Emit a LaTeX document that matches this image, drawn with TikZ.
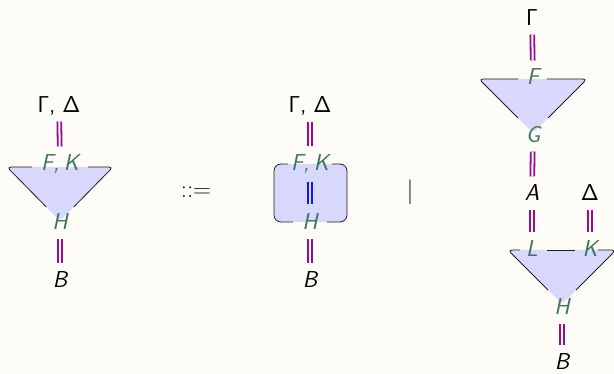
\documentclass[tikz,border=0pt]{standalone}
\usepackage{fontspec}
\usetikzlibrary{calc}
\definecolor{bg}{RGB}{254,252,247}
\definecolor{lav}{RGB}{216,216,252}
\definecolor{grn}{RGB}{58,118,90}
\definecolor{pur}{RGB}{150,10,150}
\definecolor{blu}{RGB}{20,20,240}
\definecolor{edge}{RGB}{30,30,30}
\begin{document}
\begin{tikzpicture}[x=1pt,y=-1pt,
  lab/.style={font=\fontsize{23}{27}\selectfont\sffamily, inner sep=0pt, text height=16pt, text depth=0pt, anchor=center},
  port/.style={lab, text=grn, font=\fontsize{23}{27}\selectfont\sffamily\itshape},
  ext/.style={lab, text=black},
  extit/.style={ext, font=\fontsize{23}{27}\selectfont\sffamily\itshape},
  wire/.style={draw=pur, line width=1.8pt, double=bg, double distance=2pt, shorten <=8.5pt, shorten >=8.5pt},
  iwire/.style={wire, draw=blu, double=lav, shorten <=11pt, shorten >=10pt},
  outline/.style={draw=edge, line width=0.8pt, rounded corners=4pt},
  body/.style={fill=lav, rounded corners=4pt}]
\fill[bg] (0,0) rectangle (614,374);
\useasboundingbox (0,0) rectangle (614,374);

% ---------- left: triangle ----------
\coordinate (TL1) at (7,167);
\coordinate (TR1) at (113,167);
\coordinate (AP1) at (60,221);
\fill[body] (TL1) -- (TR1) -- (AP1) -- cycle;
\draw[outline] (32,167) -- (TL1) -- ($(TL1)!0.74!(AP1)$);
\draw[outline] (88,167) -- (TR1) -- ($(TR1)!0.74!(AP1)$);
\node[ext] (gd1) at (59,105) {Γ,\hspace{0.3em}Δ};
\node[port] (fk1) at (60,163) {F,\hspace{0.2em}K};
\node[port] (h1) at (60,222) {H};
\node[extit] (b1) at (60,280) {B};
\draw[wire] (gd1) -- (fk1);
\draw[wire] (h1) -- (b1);

% ---------- ::= ----------
\node[text=black!90, inner sep=0pt] (def) at (196,192) {\fontsize{24}{28}\selectfont$::=$};

% ---------- middle: box ----------
\fill[lav, rounded corners=7pt] (274,164) rectangle (347,222);
\draw[outline, rounded corners=7pt] (288,164) -- (274,164) -- (274,222) -- (293,222);
\draw[outline, rounded corners=7pt] (332,164) -- (347,164) -- (347,222) -- (327,222);
\node[ext] (gd2) at (310,105) {Γ,\hspace{0.3em}Δ};
\node[port] (fk2) at (310,163) {F,\hspace{0.2em}K};
\node[port] (h2) at (310,222) {H};
\node[extit] (b2) at (310,280) {B};
\draw[wire] (gd2) -- (fk2);
\draw[iwire] (fk2) -- (h2);
\draw[wire] (h2) -- (b2);

% ---------- | ----------
\node[text=black!90, inner sep=0pt] (bar) at (410,192) {\fontsize{26}{30}\selectfont$|$};

% ---------- right: two triangles ----------
\coordinate (TL3) at (479,79);
\coordinate (TR3) at (587,79);
\coordinate (AP3) at (533,133);
\fill[body] (TL3) -- (TR3) -- (AP3) -- cycle;
\draw[outline] (518,79) -- (TL3) -- ($(TL3)!0.72!(AP3)$);
\draw[outline] (547,79) -- (TR3) -- ($(TR3)!0.72!(AP3)$);

\coordinate (TL4) at (508,250);
\coordinate (TR4) at (616,250);
\coordinate (AP4) at (562,304);
\fill[body] (TL4) -- (TR4) -- (AP4) -- cycle;
\draw[outline] (520,250) -- (TL4) -- ($(TL4)!0.74!(AP4)$);
\draw[outline] (598,250) -- (TR4) -- ($(TR4)!0.74!(AP4)$);
\draw[outline] (547,250) -- (575,250);

\node[ext] (g3) at (532,18) {Γ};
\node[port] (f3) at (533,77) {F};
\node[port] (gg3) at (533,135) {G};
\node[extit] (a3) at (532,193) {A};
\node[ext] (d3) at (590,193) {Δ};
\node[port] (l3) at (532,249) {L};
\node[port] (k3) at (590,249) {K};
\node[port] (h3) at (562,307) {H};
\node[extit] (b3) at (562,362) {B};
\draw[wire] (g3) -- (f3);
\draw[wire] (gg3) -- (a3);
\draw[wire] (a3) -- (l3);
\draw[wire] (d3) -- (k3);
\draw[wire] (h3) -- (b3);
\end{tikzpicture}
\end{document}
